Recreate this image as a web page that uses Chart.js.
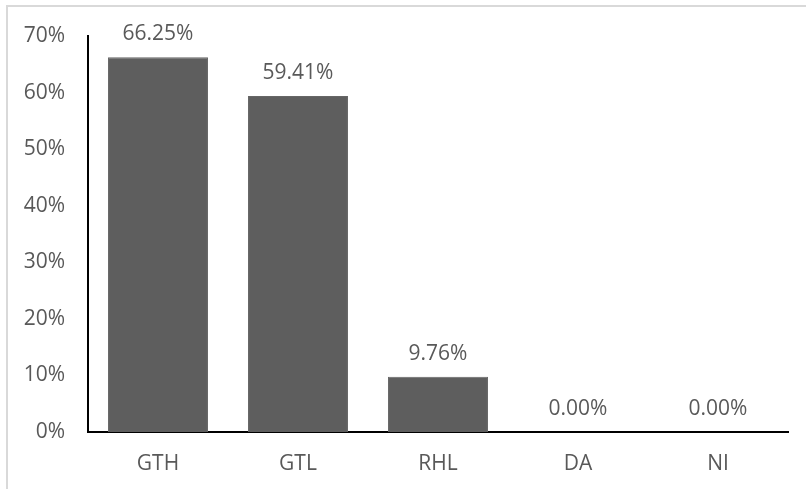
<!DOCTYPE html>
<html>
<head>
<meta charset="utf-8">
<script src="https://cdn.jsdelivr.net/npm/chart.js@4/dist/chart.umd.min.js"></script>
<style>
  html, body { margin: 0; padding: 0; background: #fff; overflow: hidden; }
  #wrap { position: relative; width: 806px; height: 489px; }
  #frame { position: absolute; left: 6px; top: 5px; width: 830px; height: 520px; border: 2px solid #d9d9d9; box-sizing: border-box; pointer-events: none; }
  canvas { position: absolute; left: 0; top: 0; }
</style>
</head>
<body>
<div id="wrap">
  <canvas id="chart" width="806" height="489"></canvas>
  <div id="frame"></div>
</div>
<script>
const categories = ['GTH', 'GTL', 'RHL', 'DA', 'NI'];
const shares = [66.25, 59.41, 9.76, 0.00, 0.00];
const yTicks = [0, 10, 20, 30, 40, 50, 60, 70];

const textColor = '#595959';
const fontFamily = '"Open Sans", "Noto Sans", sans-serif';

// percentage labels above each bar
const valueLabels = {
  id: 'valueLabels',
  afterDatasetsDraw(chart) {
    const ctx = chart.ctx;
    const meta = chart.getDatasetMeta(0);
    ctx.save();
    ctx.font = '21px ' + fontFamily;
    ctx.fillStyle = textColor;
    ctx.textAlign = 'center';
    ctx.textBaseline = 'alphabetic';
    meta.data.forEach((bar, i) => {
      ctx.fillText(shares[i].toFixed(2) + '%', bar.x, bar.y - 17);
    });
    ctx.restore();
  }
};

new Chart(document.getElementById('chart'), {
  type: 'bar',
  data: {
    labels: categories,
    datasets: [{
      data: shares,
      backgroundColor: '#5e5e5e',
      borderColor: '#666666',
      borderWidth: 1,
      barPercentage: 0.714,
      categoryPercentage: 1
    }]
  },
  options: {
    responsive: false,
    animation: false,
    layout: { padding: { left: 0, right: 18, top: 36, bottom: 0 } },
    plugins: { legend: { display: false }, tooltip: { enabled: false } },
    scales: {
      x: {
        grid: { display: false, drawTicks: false },
        border: { display: true, color: '#000', width: 2 },
        ticks: { color: textColor, font: { family: fontFamily, size: 21 }, padding: 19 },
        afterFit(scale) { scale.height = 57; }
      },
      y: {
        min: 0,
        max: 70,
        grid: { display: false, drawTicks: false },
        border: { display: true, color: '#000', width: 2 },
        afterBuildTicks(scale) { scale.ticks = yTicks.map(v => ({ value: v })); },
        ticks: {
          color: textColor,
          font: { family: fontFamily, size: 21 },
          padding: 23,
          callback: v => v + '%'
        },
        afterFit(scale) { scale.width = 88; }
      }
    }
  },
  plugins: [valueLabels]
});
</script>
</body>
</html>
